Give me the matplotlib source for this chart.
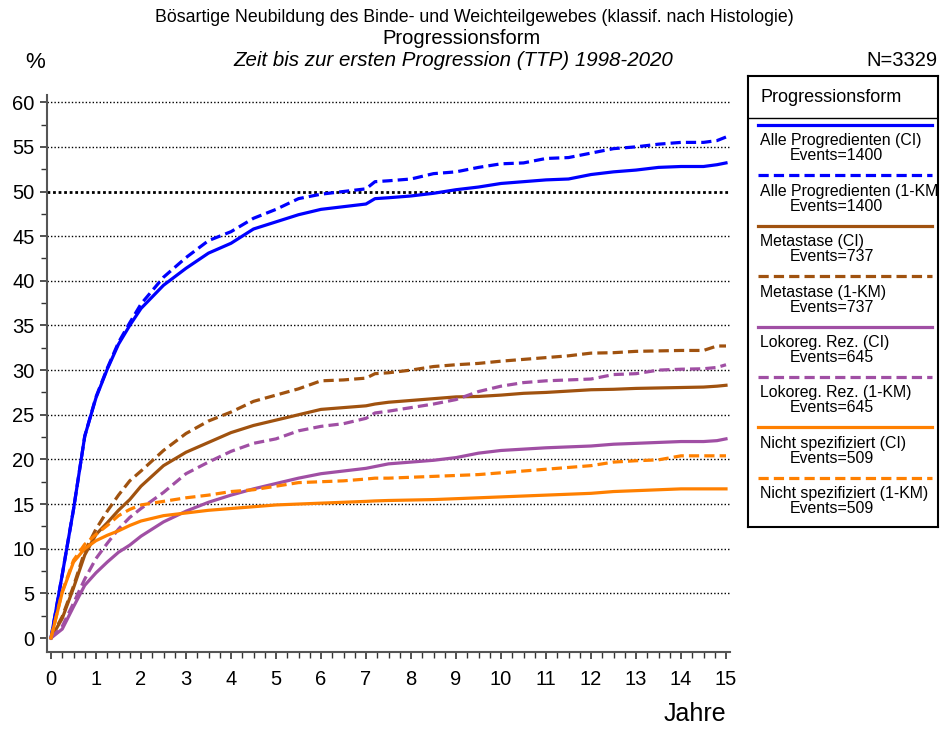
import matplotlib
matplotlib.use('Agg')
import matplotlib.pyplot as plt
from matplotlib.ticker import MultipleLocator

NARROW = ['Liberation Sans Narrow', 'Liberation Sans', 'DejaVu Sans']
REGULAR = ['Liberation Sans', 'DejaVu Sans']

# time grid in years
t = [0, 0.25, 0.5, 0.75, 1, 1.25, 1.5, 1.75, 2, 2.5, 3, 3.5, 4, 4.5, 5, 5.5, 6, 6.5,
     7, 7.2, 7.5, 8, 8.5, 9, 9.5, 10, 10.5, 11, 11.5, 12, 12.5, 13, 13.5, 14, 14.5, 14.8, 15]

alle_ci = [0, 7.1, 14.4, 22.6, 26.9, 30.1, 32.9, 35.0, 36.9, 39.5, 41.4, 43.1, 44.2, 45.8, 46.6, 47.4,
           48.0, 48.3, 48.6, 49.2, 49.3, 49.5, 49.8, 50.2, 50.5, 50.9, 51.1, 51.3, 51.4, 51.9, 52.2,
           52.4, 52.7, 52.8, 52.8, 53.0, 53.2]
alle_km = [0, 7.1, 14.4, 22.6, 27.0, 30.2, 33.1, 35.3, 37.4, 40.4, 42.6, 44.5, 45.5, 47.0, 48.0, 49.2,
           49.7, 50.0, 50.3, 51.1, 51.2, 51.4, 52.0, 52.2, 52.7, 53.1, 53.2, 53.7, 53.8, 54.3, 54.8,
           55.0, 55.3, 55.5, 55.5, 55.7, 56.1]
meta_ci = [0, 2.2, 5.6, 9.3, 11.6, 12.9, 14.3, 15.5, 17.0, 19.3, 20.8, 21.9, 23.0, 23.8, 24.4, 25.0,
           25.6, 25.8, 26.0, 26.2, 26.4, 26.6, 26.8, 27.0, 27.05, 27.2, 27.4, 27.5, 27.65, 27.8, 27.85,
           27.95, 28.0, 28.05, 28.1, 28.2, 28.3]
meta_km = [0, 2.4, 5.8, 9.7, 12.2, 14.2, 16.0, 17.6, 18.7, 21.0, 22.9, 24.3, 25.3, 26.5, 27.2, 27.9,
           28.8, 28.9, 29.1, 29.6, 29.7, 30.0, 30.4, 30.6, 30.75, 31.0, 31.2, 31.4, 31.6, 31.9, 31.95,
           32.1, 32.15, 32.2, 32.2, 32.7, 32.7]
loko_ci = [0, 1.0, 3.5, 5.9, 7.3, 8.5, 9.6, 10.4, 11.4, 13.0, 14.2, 15.2, 16.0, 16.7, 17.3, 17.9,
           18.4, 18.7, 19.0, 19.2, 19.5, 19.7, 19.9, 20.2, 20.7, 21.0, 21.15, 21.3, 21.4, 21.5, 21.7,
           21.8, 21.9, 22.0, 22.0, 22.1, 22.3]
loko_km = [0, 1.3, 3.9, 6.6, 8.9, 10.6, 12.2, 13.5, 14.5, 16.3, 18.4, 19.7, 20.9, 21.8, 22.3, 23.2,
           23.7, 24.0, 24.6, 25.2, 25.4, 25.8, 26.2, 26.7, 27.6, 28.2, 28.6, 28.8, 28.9, 29.0, 29.5,
           29.6, 30.0, 30.1, 30.15, 30.3, 30.6]
nicht_ci = [0, 5.1, 8.5, 10.0, 10.9, 11.5, 12.0, 12.6, 13.1, 13.7, 14.0, 14.3, 14.5, 14.7, 14.9, 15.0,
            15.1, 15.2, 15.3, 15.35, 15.4, 15.45, 15.5, 15.6, 15.7, 15.8, 15.9, 16.0, 16.1, 16.2, 16.4,
            16.5, 16.6, 16.7, 16.7, 16.7, 16.7]
nicht_km = [0, 5.2, 8.7, 10.5, 11.6, 12.6, 13.7, 14.4, 14.9, 15.3, 15.7, 16.0, 16.4, 16.6, 17.0, 17.4,
            17.5, 17.6, 17.8, 17.9, 17.9, 18.0, 18.1, 18.2, 18.3, 18.5, 18.7, 18.9, 19.1, 19.3, 19.7,
            19.85, 19.95, 20.4, 20.4, 20.4, 20.4]

labels = ['Alle Progredienten (CI)', 'Alle Progredienten (1-KM)',
          'Metastase (CI)', 'Metastase (1-KM)',
          'Lokoreg. Rez. (CI)', 'Lokoreg. Rez. (1-KM)',
          'Nicht spezifiziert (CI)', 'Nicht spezifiziert (1-KM)']
events = [1400, 1400, 737, 737, 645, 645, 509, 509]
series = [alle_ci, alle_km, meta_ci, meta_km, loko_ci, loko_km, nicht_ci, nicht_km]
colors = ['#0000FF', '#0000FF', '#A0520F', '#A0520F', '#A04FA4', '#A04FA4', '#FF8000', '#FF8000']
dashed = [False, True] * 4

W, H = 940, 729
fig = plt.figure(figsize=(W / 100, H / 100), dpi=100)

# main axes
ax = fig.add_axes([47 / W, 1 - 652 / H, (730 - 47) / W, (652 - 95) / H])
ax.set_xlim(-4 / 45, (730 - 51) / 45)
ax.set_ylim(-14 / 8.93, (638 - 95) / 8.93)

for yy in range(5, 61, 5):
    ax.axhline(yy, color='black', lw=2.0 if yy == 50 else 1.0,
               ls=(0, (1, 1.5)) if yy != 50 else (0, (1, 1)), zorder=1)

for y, c, d in zip(series, colors, dashed):
    if d:
        ax.plot(t, y, color=c, lw=2.3, dashes=(3.2, 1.6), zorder=3)
    else:
        ax.plot(t, y, color=c, lw=2.3, zorder=3)

for s in ['top', 'right']:
    ax.spines[s].set_visible(False)
for s in ['left', 'bottom']:
    ax.spines[s].set_color('#555555')
    ax.spines[s].set_linewidth(1.5)

ax.xaxis.set_major_locator(MultipleLocator(1))
ax.xaxis.set_minor_locator(MultipleLocator(0.25))
ax.yaxis.set_major_locator(MultipleLocator(5))
ax.yaxis.set_minor_locator(MultipleLocator(2.5))
ax.tick_params(which='major', length=5, width=1.2, color='#333333', labelsize=14.5, pad=4)
ax.tick_params(which='minor', length=4, width=1.0, color='#333333')
ax.tick_params(axis='x', pad=8)
for lab in ax.get_xticklabels() + ax.get_yticklabels():
    lab.set_family(NARROW)

# titles and axis texts
fig.text(474 / W, 1 - 18 / H, 'Bösartige Neubildung des Binde- und Weichteilgewebes (klassif. nach Histologie)',
         ha='center', va='center', fontsize=12.8, family=NARROW)
fig.text(462 / W, 1 - 38 / H, 'Progressionsform', ha='center', va='center', fontsize=14.5, family=NARROW)
fig.text(453 / W, 1 - 60 / H, 'Zeit bis zur ersten Progression (TTP) 1998-2020', ha='center', va='center',
         fontsize=14.8, style='italic', family=NARROW)
fig.text(35 / W, 1 - 62 / H, '%', ha='center', va='center', fontsize=16, family=NARROW)
fig.text(938 / W, 1 - 60 / H, 'N=3329', ha='right', va='center', fontsize=14.5, family=NARROW)
fig.text(695 / W, 1 - 714 / H, 'Jahre', ha='center', va='center', fontsize=18, family=NARROW)

# legend box drawn in pixel coordinates
lg = fig.add_axes([748 / W, 1 - 527 / H, 190 / W, 451 / H])
lg.set_xlim(748, 938)
lg.set_ylim(527, 76)
lg.set_xticks([])
lg.set_yticks([])
for s in lg.spines.values():
    s.set_linewidth(1.5)
    s.set_color('black')
lg.text(760, 97, 'Progressionsform', ha='left', va='center', fontsize=13, family=REGULAR)
lg.plot([748, 938], [118, 118], color='black', lw=1.0)
for i, (lab, ev, c, d) in enumerate(zip(labels, events, colors, dashed)):
    ly = 125 + 50.4 * i
    if d:
        lg.plot([758, 932], [ly, ly], color=c, lw=2.3, dashes=(3.2, 1.6))
    else:
        lg.plot([758, 932], [ly, ly], color=c, lw=2.3)
    lg.text(760, ly + 16, lab, ha='left', va='center', fontsize=11.4, family=REGULAR, clip_on=True)
    lg.text(790, ly + 31, 'Events=%d' % ev, ha='left', va='center', fontsize=11.4, family=REGULAR,
            clip_on=True)

fig.savefig('out.png', dpi=100)
